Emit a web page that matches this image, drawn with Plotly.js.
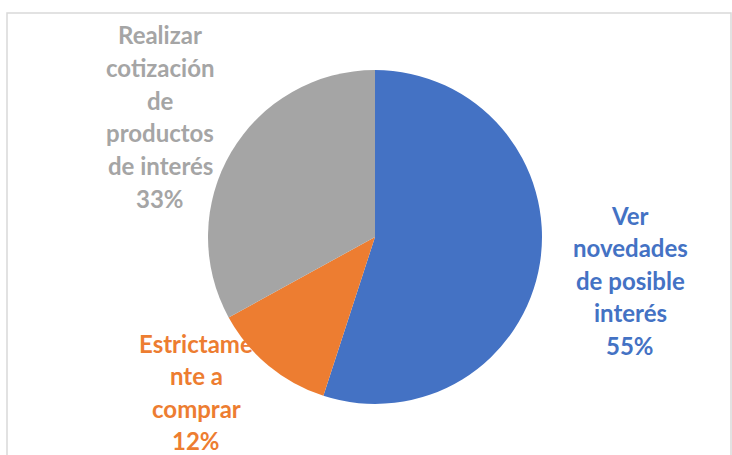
<!DOCTYPE html>
<html>
<head>
<meta charset="utf-8">
<script src="https://cdn.plot.ly/plotly-3.0.1.min.js"></script>
<style>
  html, body { margin: 0; padding: 0; background: #ffffff; }
  #grafico { width: 732px; height: 455px; }
</style>
</head>
<body>
<div id="grafico"></div>
<script>
// Datos del gráfico
const categorias = [
  "Ver novedades de posible interés",
  "Estrictamente a comprar",
  "Realizar cotización de productos de interés"
];
const valores = [55, 12, 33];
const colores = ["#4472C4", "#ED7D31", "#A5A5A5"];

// Cómo se corta cada etiqueta en líneas (igual que en la imagen)
const lineasEtiqueta = [
  ["Ver", "novedades", "de posible", "interés"],
  ["Estrictame", "nte a", "comprar"],
  ["Realizar", "cotización", "de", "productos", "de interés"]
];

// Posición (px) del centro de la primera línea de cada etiqueta
const posEtiquetaX = [630, 196, 160];
const posEtiquetaY = [215, 343, 35];
const altoLinea = 32.6;

const W = 732, H = 455;
const total = valores.reduce((a, b) => a + b, 0);

// Pastel: centro (375, 237), radio ~167
const cx = 375, cy = 237, r = 167;

const traza = {
  type: "pie",
  labels: categorias,
  values: valores,
  sort: false,
  direction: "clockwise",
  rotation: 0,
  textinfo: "none",
  hoverinfo: "label+percent",
  marker: { colors: colores, line: { width: 0 } },
  domain: {
    x: [(cx - r) / W, (cx + r) / W],
    y: [1 - (cy + r) / H, 1 - (cy - r) / H]
  },
  showlegend: false
};

// Etiquetas: una anotación por línea para controlar el interlineado
const anotaciones = [];
categorias.forEach(function (cat, i) {
  const pct = Math.round((valores[i] / total) * 100) + "%";
  const lineas = lineasEtiqueta[i].concat([pct]);
  lineas.forEach(function (txt, k) {
    anotaciones.push({
      text: "<b>" + txt + "</b>",
      xref: "paper",
      yref: "paper",
      x: posEtiquetaX[i] / W,
      y: 1 - (posEtiquetaY[i] + k * altoLinea) / H,
      xanchor: "center",
      yanchor: "middle",
      showarrow: false,
      font: { family: "Lato, 'Open Sans', sans-serif", size: 24, weight: 900, color: colores[i] }
    });
  });
});

const layout = {
  width: W,
  height: H,
  margin: { l: 0, r: 0, t: 0, b: 0 },
  paper_bgcolor: "#ffffff",
  plot_bgcolor: "#ffffff",
  annotations: anotaciones,
  shapes: [
    {
      // marco del área del gráfico
      type: "rect",
      xref: "paper",
      yref: "paper",
      x0: 7 / W,
      x1: 731 / W,
      y0: -0.05,
      y1: 1 - 13 / H,
      line: { color: "#d9d9d9", width: 1.5 },
      fillcolor: "rgba(0,0,0,0)",
      layer: "below"
    }
  ]
};

Plotly.newPlot("grafico", [traza], layout, { displayModeBar: false, staticPlot: true });
</script>
</body>
</html>
